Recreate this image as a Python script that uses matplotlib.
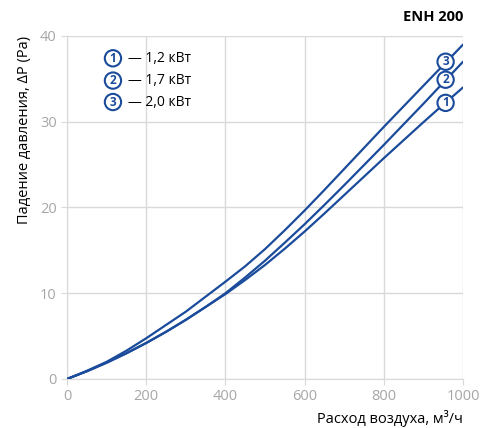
import matplotlib.pyplot as plt

# airflow, m3/h
flow = [0, 50, 100, 150, 200, 250, 300, 350, 400, 450, 500,
        550, 600, 650, 700, 750, 800, 850, 900, 950, 1000]
# pressure drop, Pa
dp_12 = [0, 0.9, 1.9, 3.0, 4.2, 5.5, 6.9, 8.4, 9.9, 11.55, 13.3,
         15.2, 17.2, 19.3, 21.45, 23.6, 25.75, 27.85, 29.95, 32.0, 34.0]
dp_17 = [0, 0.9, 1.9, 3.0, 4.2, 5.5, 6.9, 8.4, 10.0, 11.85, 13.8,
         15.9, 18.05, 20.3, 22.6, 24.95, 27.3, 29.7, 32.1, 34.55, 37.0]
dp_20 = [0, 0.95, 2.0, 3.3, 4.75, 6.3, 7.85, 9.6, 11.35, 13.15, 15.15,
         17.35, 19.65, 22.05, 24.5, 26.95, 29.4, 31.8, 34.2, 36.6, 39.0]

names = ['1,2 кВт', '1,7 кВт', '2,0 кВт']
tags = ['1', '2', '3']
tag_x = 956
tag_y = [32.2, 34.9, 37.0]

blue = '#1b4b9b'
gray = '#a6a6a6'

plt.rcParams['font.family'] = ['Open Sans', 'DejaVu Sans']

fig = plt.figure(figsize=(4.95, 4.28), dpi=100)
ax = fig.add_axes([0.1354, 0.1145, 0.8, 0.8014])

for ys in (dp_12, dp_17, dp_20):
    ax.plot(flow, ys, color=blue, lw=1.6, solid_capstyle='round',
            solid_joinstyle='round', zorder=3)

circ = dict(boxstyle='circle,pad=0.14', fc='white', ec=blue, lw=1.5)
for t, y in zip(tags, tag_y):
    ax.text(tag_x, y, t, color=blue, fontsize=8.5, fontweight='bold',
            ha='center', va='center', bbox=circ, zorder=4)

# legend block
leg_y = [37.4, 34.8, 32.3]
for t, n, y in zip(tags, names, leg_y):
    ax.text(116, y, t, color=blue, fontsize=8.5, fontweight='bold',
            ha='center', va='center', bbox=circ, zorder=4)
    ax.text(155, y, '— ' + n, color='black', fontsize=10, ha='left', va='center')

ax.set_xlim(0, 1000)
ax.set_ylim(0, 40)
ax.set_xticks(range(0, 1001, 200))
ax.set_yticks(range(0, 41, 10))
ax.grid(True, color='#d9d9d9', lw=1)
ax.set_axisbelow(True)
for s in ('top', 'right'):
    ax.spines[s].set_visible(False)
for s in ('left', 'bottom'):
    ax.spines[s].set_color('#d9d9d9')
ax.tick_params(colors=gray, labelsize=10.5, length=4, color='#d9d9d9')

ax.set_xlabel('Расход воздуха, м³/ч', fontsize=10.5, loc='right', labelpad=4)
ax.set_ylabel('Падение давления, ΔP (Pa)', fontsize=10.5, loc='top', labelpad=6)
fig.text(0.9354, 0.96, 'ENH 200', fontsize=10.5, fontweight='bold',
         ha='right', va='center')

fig.savefig('out.png', dpi=100)
